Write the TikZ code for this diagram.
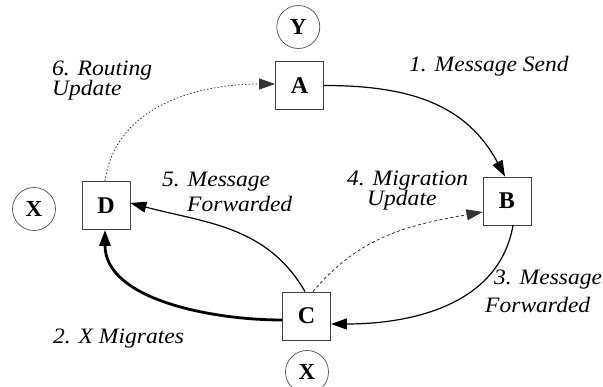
\documentclass[tikz,border=0pt]{standalone}
\usepackage{fontspec}
\setmainfont{Liberation Serif}
\newfontfamily\lblfont[FakeStretch=1.07]{Liberation Serif}
\usetikzlibrary{arrows.meta}
\begin{document}
\begin{tikzpicture}[x=1pt,y=1pt,
  box/.style={draw=black!75, line width=0.9pt, minimum width=48pt, minimum height=48pt, inner sep=0pt, font=\fontsize{24}{24}\selectfont\bfseries},
  circ/.style={draw=black!70, line width=0.7pt, circle, minimum size=43pt, inner sep=0pt, font=\fontsize{23}{23}\selectfont\bfseries},
  lbl/.style={anchor=base west, inner sep=0pt, font=\lblfont\fontsize{22}{22}\selectfont\itshape},
  tip/.style={-{Triangle[length=16pt,width=11pt]}},
  msg/.style={tip, line width=1.2pt},
  mig/.style={tip, line width=2.8pt},
  upd/.style={tip, line width=0.8pt, black!80, dash pattern=on 3pt off 2.5pt},
  rte/.style={tip, line width=0.8pt, black!80, dash pattern=on 1.5pt off 2pt}]
\useasboundingbox (0,0) rectangle (603,387);
\node[box] (A) at (299.5,301.5) {A};
\node[box] (B) at (507,186) {B};
\node[box] (C) at (306.5,71) {C};
\node[box] (D) at (106,181.5) {D};
\node[circ] (Y) at (298.3,360) {Y};
\node[circ] (X1) at (34,178) {X};
\node[circ] (X2) at (307,15) {X};
% connectors
\draw[msg] (A.east) to[out=0,in=118,looseness=1.05] ([xshift=-2pt]B.north);
\draw[mig] ([yshift=-4pt]C.west) to[out=180,in=270,looseness=0.9] ([xshift=-1pt]D.south);
\draw[msg] ([xshift=6pt]B.south) to[out=-100,in=0,looseness=1.0] ([yshift=-8pt]C.east);
\draw[upd] ([xshift=6.5pt]C.north) to[out=50,in=190,looseness=1.0] ([yshift=-11pt]B.west);
\draw[msg] ([xshift=-1.5pt]C.north) to[out=120,in=-15,looseness=1.0] ([yshift=2.5pt]D.east);
\draw[rte] ([xshift=-1pt]D.north) to[out=82,in=180,looseness=1.0] ([yshift=1.5pt]A.west);
% labels
\node[lbl] (l1) at (409,315) {1. Message Send};
\node[lbl] (l6a) at (52,311) {6. Routing};
\node[lbl] (l6b) at (52,291) {Update};
\node[lbl] (l5a) at (162,200) {5. Message};
\node[lbl] (l5b) at (187,175) {Forwarded};
\node[lbl] (l4a) at (347,201) {4. Migration};
\node[lbl] (l4b) at (367,181) {Update};
\node[lbl] (l3a) at (494,102) {3. Message};
\node[lbl] (l3b) at (485,74) {Forwarded};
\node[lbl] (l2) at (53,43) {2. X Migrates};
\end{tikzpicture}
\end{document}
